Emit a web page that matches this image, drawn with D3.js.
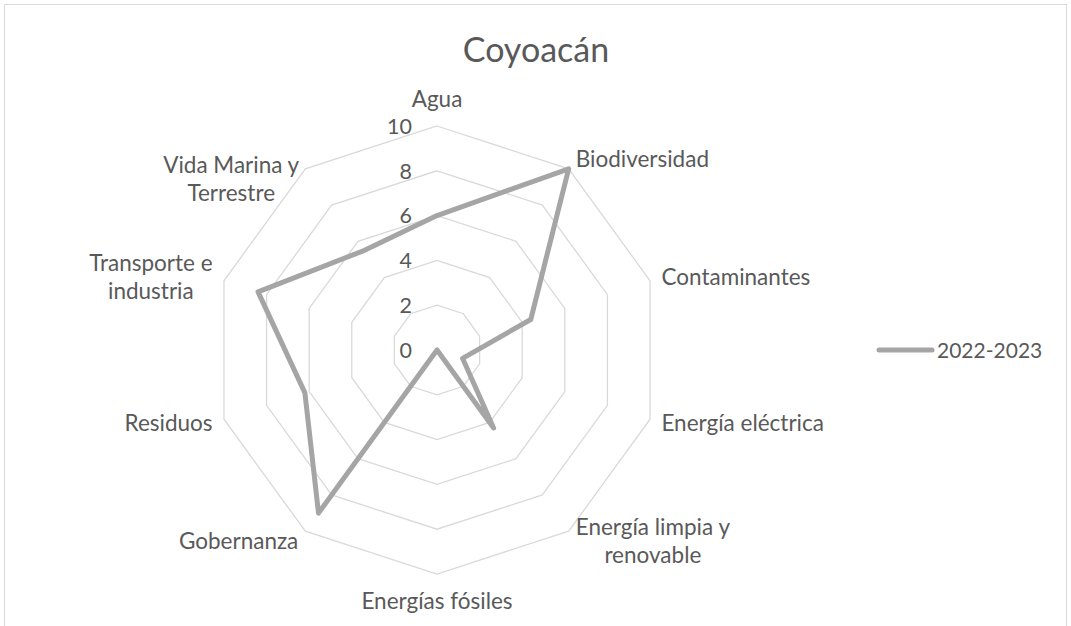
<!DOCTYPE html>
<html>
<head>
<meta charset="utf-8">
<script src="https://cdn.jsdelivr.net/npm/d3@7"></script>
<style>
  body { margin: 0; background: #fff; }
  text { font-family: Lato, "Open Sans", sans-serif; fill: #595959; }
</style>
</head>
<body>
<div id="chart"></div>
<script>
const categories = ["Agua", "Biodiversidad", "Contaminantes", "Energía eléctrica",
    "Energía limpia y renovable", "Energías fósiles", "Gobernanza", "Residuos",
    "Transporte e industria", "Vida Marina y Terrestre"];
// label line breaks as in the picture
const labelLines = [["Agua"], ["Biodiversidad"], ["Contaminantes"], ["Energía eléctrica"],
    ["Energía limpia y", "renovable"], ["Energías fósiles"], ["Gobernanza"], ["Residuos"],
    ["Transporte e", "industria"], ["Vida Marina y", "Terrestre"]];
const seriesName = "2022-2023";
const values = [6, 10, 4.4, 1.2, 4.3, 0, 9, 6.2, 8.4, 5.5];
const ticks = [0, 2, 4, 6, 8, 10];

function initRadar() {
    const width = 1071, height = 626;
    const cx = 437, cy = 350, radius = 224;

    const svg = d3.select("#chart")
        .append("svg")
        .attr("width", width)
        .attr("height", height);

    // chart border
    svg.append("rect")
        .attr("x", 4.5).attr("y", 4.5)
        .attr("width", 1062).attr("height", 700)
        .attr("fill", "none")
        .attr("stroke", "#d9d9d9")
        .attr("stroke-width", 1);

    svg.append("text")
        .attr("x", 536)
        .attr("y", 62)
        .attr("text-anchor", "middle")
        .style("font-size", "34px")
        .text("Coyoacán");

    const g = svg.append("g")
        .attr("transform", "translate(" + cx + "," + cy + ")");

    const r = d3.scaleLinear().domain([0, 10]).range([0, radius]);
    const angle = d3.scaleLinear().domain([0, categories.length]).range([0, 2 * Math.PI]);

    // grid rings
    const ring = d3.lineRadial()
        .angle((d, i) => angle(i))
        .radius(d => r(d))
        .curve(d3.curveLinearClosed);

    ticks.filter(t => t > 0).forEach(t => {
        g.append("path")
            .attr("d", ring(categories.map(() => t)))
            .attr("fill", "none")
            .attr("stroke", "#d9d9d9")
            .attr("stroke-width", 1.3);
    });

    // tick labels
    g.selectAll(".tick")
        .data(ticks)
        .enter()
        .append("text")
        .attr("x", -25)
        .attr("y", d => -r(d))
        .attr("dy", "0.36em")
        .attr("text-anchor", "end")
        .style("font-size", "21.5px")
        .text(d => d);

    // series
    g.append("path")
        .attr("d", ring(values))
        .attr("fill", "none")
        .attr("stroke", "#a5a5a5")
        .attr("stroke-width", 5)
        .attr("stroke-linejoin", "round");

    // category labels
    const lineH = 28, pad = 12;
    labelLines.forEach((lines, i) => {
        const a = angle(i);
        const s = Math.sin(a), c = Math.cos(a);
        const px = (radius + pad) * s, py = -(radius + pad) * c;
        const t = g.append("text").style("font-size", "22.5px");
        lines.forEach((ln, k) => {
            t.append("tspan").attr("data-k", k).text(ln);
        });
        // widest line
        const widths = [];
        t.selectAll("tspan").each(function () { widths.push(this.getComputedTextLength()); });
        const w = d3.max(widths);
        const blockH = lines.length * lineH;
        let left;
        let midY = py;
        if (Math.abs(s) < 0.1) {
            left = px - w / 2;
            midY = py - c * (blockH / 2 + 1);
        } else if (s > 0) {
            left = px;
        } else {
            left = px - w;
        }
        if (i === 9) midY += 20;
        t.selectAll("tspan")
            .attr("text-anchor", "middle")
            .attr("x", left + w / 2)
            .attr("y", (d, k) => midY - blockH / 2 + lineH * (k + 0.5))
            .attr("dy", "0.36em");
    });

    // legend
    const legend = svg.append("g").attr("transform", "translate(879,350)");
    legend.append("line")
        .attr("x1", 0).attr("x2", 53)
        .attr("y1", 0).attr("y2", 0)
        .attr("stroke", "#a5a5a5")
        .attr("stroke-width", 5)
        .attr("stroke-linecap", "round");
    legend.append("text")
        .attr("x", 58)
        .attr("y", 0)
        .attr("dy", "0.36em")
        .style("font-size", "21px")
        .text(seriesName);
}
window.onload = initRadar;
</script>
</body>
</html>
